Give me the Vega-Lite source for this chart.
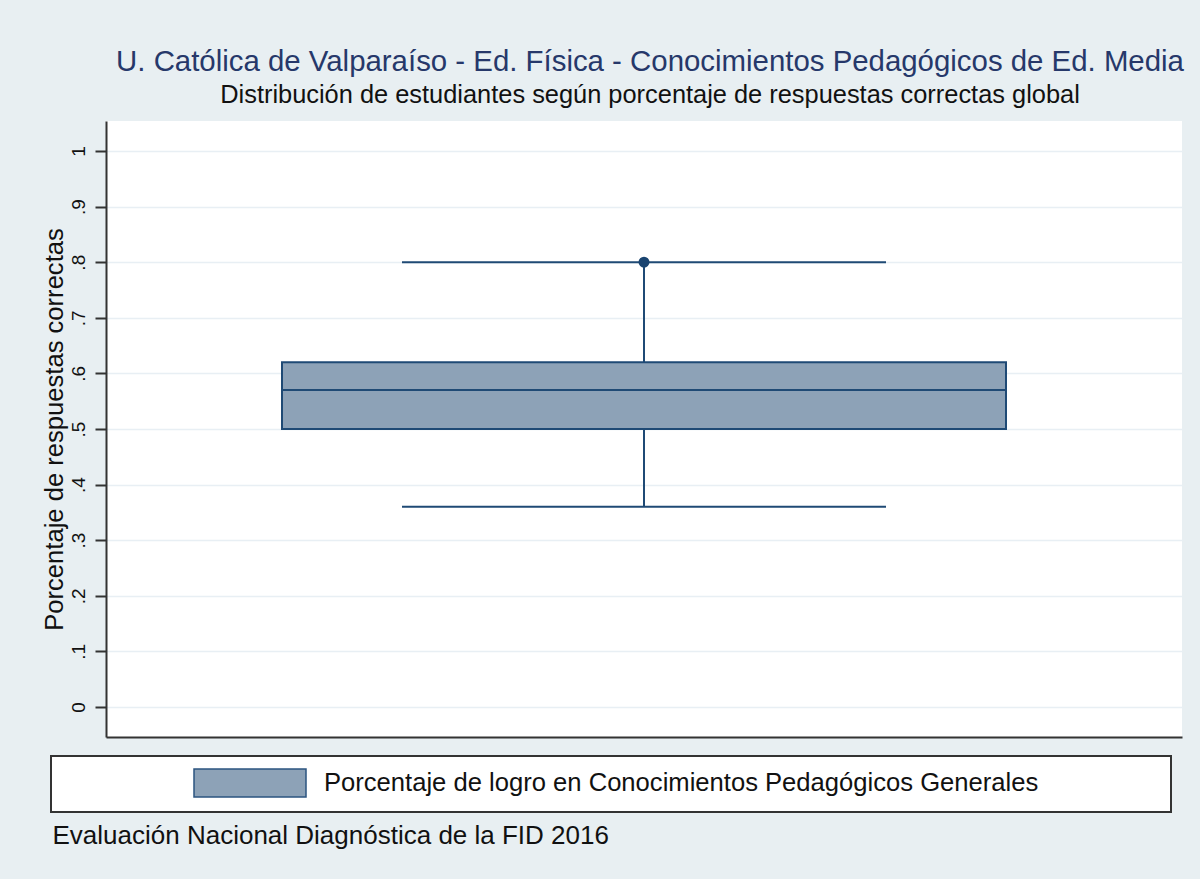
{
  "$schema": "https://vega.github.io/schema/vega-lite/v6.json",
  "width": 1076,
  "height": 616,
  "autosize": {"type": "none"},
  "padding": {"left": 106, "top": 121, "right": 18, "bottom": 142},
  "background": "#e8eff2",
  "title": {
    "text": "U. Católica de Valparaíso - Ed. Física - Conocimientos Pedagógicos de Ed. Media",
    "subtitle": "Distribución de estudiantes según porcentaje de respuestas correctas global",
    "anchor": "middle",
    "dx": 6,
    "font": "Liberation Sans",
    "fontSize": 29.4,
    "fontWeight": "normal",
    "color": "#26386a",
    "subtitleFont": "Liberation Sans",
    "subtitleFontSize": 25.4,
    "subtitleColor": "#111111",
    "subtitlePadding": 5,
    "offset": 12
  },
  "data": {
    "values": [
      {"grupo": "Porcentaje de logro en Conocimientos Pedagógicos Generales", "min": 0.36, "q1": 0.5, "mediana": 0.57, "q3": 0.62, "max": 0.8, "atipico": 0.8}
    ]
  },
  "encoding": {
    "x": {
      "field": "grupo",
      "type": "nominal",
      "axis": {
        "labels": false,
        "ticks": false,
        "domain": true,
        "domainColor": "#333333",
        "domainWidth": 2,
        "title": "Evaluación Nacional Diagnóstica de la FID 2016",
        "titleAnchor": "start",
        "titleAlign": "left",
        "titleX": -54,
        "titleY": 106,
        "titleBaseline": "alphabetic",
        "titleFont": "Liberation Sans",
        "titleFontSize": 26,
        "titleFontWeight": "normal",
        "titleColor": "#111111"
      }
    }
  },
  "layer": [
    {
      "mark": {"type": "rule", "color": "#1f4a75", "strokeWidth": 2},
      "encoding": {
        "y": {
          "field": "min",
          "type": "quantitative",
          "scale": {"domain": [-0.054, 1.054], "nice": false, "zero": false},
          "axis": {
            "values": [0, 0.1, 0.2, 0.3, 0.4, 0.5, 0.6, 0.7, 0.8, 0.9, 1],
            "labelExpr": "datum.value == 0 ? '0' : datum.value == 1 ? '1' : replace(format(datum.value, '.1f'), '0.', '.')",
            "grid": true,
            "gridColor": "#e8eff4",
            "gridWidth": 1.5,
            "tickColor": "#333333",
            "tickWidth": 2,
            "tickSize": 11,
            "domainColor": "#333333",
            "domainWidth": 2,
            "labelAngle": -90,
            "labelFont": "Liberation Sans",
            "labelFontSize": 19,
            "labelColor": "#111111",
            "labelPadding": 7,
            "title": "Porcentaje de respuestas correctas",
            "titleFont": "Liberation Sans",
            "titleFontSize": 25.6,
            "titleFontWeight": "normal",
            "titleColor": "#111111",
            "titlePadding": 2
          }
        },
        "y2": {"field": "max"}
      }
    },
    {
      "mark": {"type": "bar", "size": 724, "stroke": "#1f4a75", "strokeWidth": 2, "opacity": 1},
      "encoding": {
        "y": {"field": "q1", "type": "quantitative"},
        "y2": {"field": "q3"},
        "color": {
          "field": "grupo",
          "type": "nominal",
          "scale": {"range": ["#8da2b7"]},
          "legend": {
            "orient": "none",
            "legendX": -55,
            "legendY": 635,
            "title": "\u00a0",
            "titleOrient": "right",
            "titlePadding": 121,
            "titleColor": "#ffffff",
            "titleFontSize": 10,
            "fillColor": "#ffffff",
            "strokeColor": "#333333",
            "padding": 12,
            "symbolType": "M-4,-1H4V1H-4Z",
            "symbolSize": 784,
            "symbolStrokeColor": "#2b5480",
            "symbolStrokeWidth": 1.5,
            "symbolOpacity": 1,
            "symbolOffset": 172,
            "labelOffset": 59,
            "labelFont": "Liberation Sans",
            "labelFontSize": 25.6,
            "labelColor": "#111111",
            "labelLimit": 2000,
            "encode": {"legend": {"update": {"strokeWidth": {"value": 2}}}}
          }
        }
      }
    },
    {
      "mark": {"type": "tick", "size": 724, "thickness": 2, "color": "#1f4a75", "opacity": 1},
      "encoding": {"y": {"field": "mediana", "type": "quantitative"}}
    },
    {
      "mark": {"type": "tick", "size": 484, "thickness": 2, "color": "#1f4a75", "opacity": 1},
      "encoding": {"y": {"field": "min", "type": "quantitative"}}
    },
    {
      "mark": {"type": "tick", "size": 484, "thickness": 2, "color": "#1f4a75", "opacity": 1},
      "encoding": {"y": {"field": "max", "type": "quantitative"}}
    },
    {
      "mark": {"type": "point", "filled": true, "size": 120, "color": "#1a4470", "opacity": 1},
      "encoding": {"y": {"field": "atipico", "type": "quantitative"}}
    }
  ],
  "config": {
    "view": {"fill": "#ffffff", "stroke": null}
  }
}
